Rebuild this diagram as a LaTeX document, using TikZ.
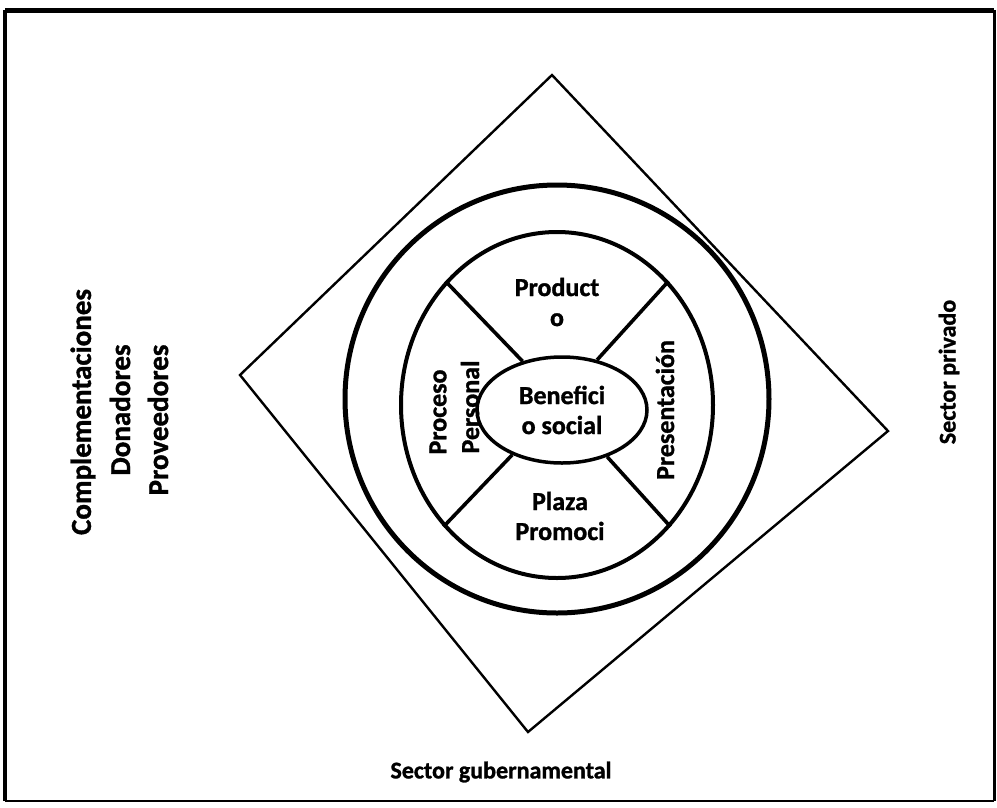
\documentclass[tikz,border=0pt]{standalone}
\usepackage{fontspec}
\setmainfont{Carlito}[BoldFeatures={FakeBold=1.2}]
\usetikzlibrary{shapes.geometric}
\tikzset{
  lbl/.style={font=\fontsize{26}{30}\selectfont\bfseries, align=center, inner sep=0pt},
  biglbl/.style={lbl, font=\fontsize{29}{34}\selectfont\bfseries},
  sidelbl/.style={lbl, font=\fontsize{24}{29}\selectfont\bfseries},
  ring/.style={draw, ellipse, inner sep=0pt},
  divider/.style={line width=3.6pt}
}
\begin{document}
\begin{tikzpicture}[x=1pt, y=-1pt]
  \useasboundingbox (0,0) rectangle (997,807);
  % page frame
  \draw[line width=5pt] (5,10) -- (994,10);
  \draw[line width=4pt] (5,10) -- (5,801);
  \draw[line width=3pt] (994,10) -- (994,801);
  \draw[line width=2.5pt] (5,801) -- (994,801);

  % diamond
  \coordinate (dt) at (552,75);
  \coordinate (dr) at (888,431);
  \coordinate (db) at (528,732);
  \coordinate (dl) at (240,375);
  \draw[line width=2.4pt, line join=miter] (dt) -- (dr) -- (db) -- (dl) -- cycle;

  % rings
  \node[ring, line width=5pt, minimum width=424pt, minimum height=428pt] (outer) at (557,399) {};
  \node[ring, line width=4pt, minimum width=312pt, minimum height=346pt] (inner) at (557,405) {};
  \node[ring, line width=3.5pt, minimum width=170pt, minimum height=106pt, lbl] (core) at (562,410) {Benefici\\o social};

  % sector dividers
  \draw[divider] (inner.132) -- (core.129);
  \draw[divider] (inner.48) -- (core.55);
  \draw[divider] (inner.227) -- (core.222);
  \draw[divider] (inner.313) -- (core.314);

  % sector labels
  \node[lbl] (prod) at (557,302) {Product\\o};
  \node[lbl] (plaza) at (560,516) {Plaza\\Promoci};
  \node[lbl, rotate=90] (proc) at (438,412) {Proceso};
  \node[lbl, rotate=90] (pers) at (470,407) {Personal};
  \node[lbl, rotate=90] (pres) at (665,410) {Presentación};

  % surrounding actors
  \node[biglbl, rotate=90] (comp) at (83,412) {Complementaciones};
  \node[biglbl, rotate=90] (don) at (120,410) {Donadores};
  \node[biglbl, rotate=90] (prov) at (158,420) {Proveedores};
  \node[sidelbl, rotate=90] (priv) at (949,372) {Sector privado};
  \node[sidelbl] (gub) at (501,772) {Sector gubernamental};
\end{tikzpicture}
\end{document}
